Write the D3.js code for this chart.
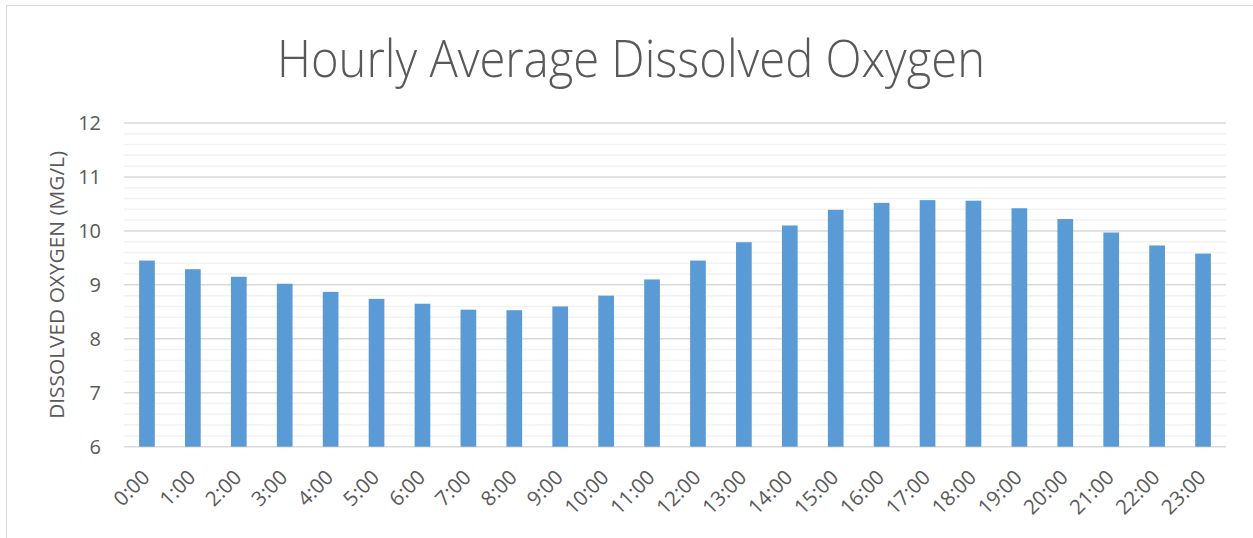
<!DOCTYPE html>
<html>
<head>
<meta charset="utf-8">
<script src="https://cdn.jsdelivr.net/npm/d3@7"></script>
<style>
  body { margin: 0; background: #fff; }
  svg { display: block; }
  text { font-family: "Open Sans", sans-serif; fill: #595959; }
</style>
</head>
<body>
<svg id="chart"></svg>
<script>
var width = 1253;
var height = 538;

// hourly averages
var hours = ["0:00", "1:00", "2:00", "3:00", "4:00", "5:00", "6:00", "7:00",
             "8:00", "9:00", "10:00", "11:00", "12:00", "13:00", "14:00", "15:00",
             "16:00", "17:00", "18:00", "19:00", "20:00", "21:00", "22:00", "23:00"];
var oxygen = [9.45, 9.29, 9.15, 9.02, 8.87, 8.74, 8.65, 8.54,
              8.53, 8.60, 8.80, 9.10, 9.45, 9.79, 10.10, 10.39,
              10.52, 10.57, 10.56, 10.42, 10.22, 9.97, 9.73, 9.58];
var yDomain = [6, 12];
var yTicks = [6, 7, 8, 9, 10, 11, 12];

var margin = {top: 123, right: 27, bottom: 91.3, left: 124};

var svg = d3.select("#chart").attr("width", width).attr("height", height);

// chart area border (runs off the right/bottom of the window)
svg.append("rect")
    .attr("x", 6.5).attr("y", 5.5)
    .attr("width", width + 20).attr("height", height + 20)
    .attr("fill", "none")
    .attr("stroke", "#d9d9d9")
    .attr("stroke-width", 1);

var x = d3.scaleBand()
    .domain(hours)
    .range([margin.left, width - margin.right])
    .paddingInner(0.658)
    .paddingOuter(0.329);

var y = d3.scaleLinear()
    .domain(yDomain)
    .range([height - margin.bottom, margin.top]);

// minor gridlines every 0.2
svg.append("g").selectAll("line")
    .data(y.ticks(30).filter(function(d) { return Math.abs(d - Math.round(d)) > 1e-6; }))
    .enter().append("line")
    .attr("x1", margin.left).attr("x2", width - margin.right)
    .attr("y1", function(d) { return y(d); })
    .attr("y2", function(d) { return y(d); })
    .attr("stroke", "#f2f2f2")
    .attr("stroke-width", 1.5);

// major gridlines
svg.append("g").selectAll("line")
    .data(yTicks)
    .enter().append("line")
    .attr("x1", margin.left).attr("x2", width - margin.right)
    .attr("y1", function(d) { return y(d); })
    .attr("y2", function(d) { return y(d); })
    .attr("stroke", "#d9d9d9")
    .attr("stroke-width", 1.5);

// bars
svg.append("g").selectAll("rect")
    .data(oxygen)
    .enter().append("rect")
    .attr("x", function(d, i) { return x(hours[i]); })
    .attr("width", x.bandwidth())
    .attr("y", function(d) { return y(d); })
    .attr("height", function(d) { return y(yDomain[0]) - y(d); })
    .attr("fill", "#5b9bd5");

// y axis labels
var yAxis = svg.append("g")
    .attr("transform", "translate(" + margin.left + ",0)")
    .call(d3.axisLeft(y).tickValues(yTicks).tickFormat(d3.format("d")).tickSize(0).tickPadding(23));
yAxis.select(".domain").remove();
yAxis.selectAll("text")
    .style("font-size", "20px")
    .style("font-family", "'Open Sans', sans-serif")
    .attr("fill", "#595959");

// x axis labels, rotated
svg.append("g").selectAll("text")
    .data(hours)
    .enter().append("text")
    .attr("transform", function(d) {
      return "translate(" + (x(d) + x.bandwidth() / 2 + 4) + "," + (height - margin.bottom + 32) + ") rotate(-45)";
    })
    .attr("text-anchor", "end")
    .style("font-size", "20.5px")
    .text(function(d) { return d; });

// y axis title
svg.append("text")
    .attr("transform", "translate(63.5," + ((y(yDomain[0]) + y(yDomain[1])) / 2) + ") rotate(-90)")
    .attr("text-anchor", "middle")
    .attr("textLength", 268)
    .attr("lengthAdjust", "spacingAndGlyphs")
    .style("font-size", "20px")
    .text("DISSOLVED OXYGEN (MG/L)");

// chart title
svg.append("text")
    .attr("x", 631).attr("y", 77.3)
    .attr("text-anchor", "middle")
    .attr("textLength", 708)
    .attr("lengthAdjust", "spacingAndGlyphs")
    .style("font-size", "51px")
    .style("font-weight", 300)
    .text("Hourly Average Dissolved Oxygen");
</script>
</body>
</html>
